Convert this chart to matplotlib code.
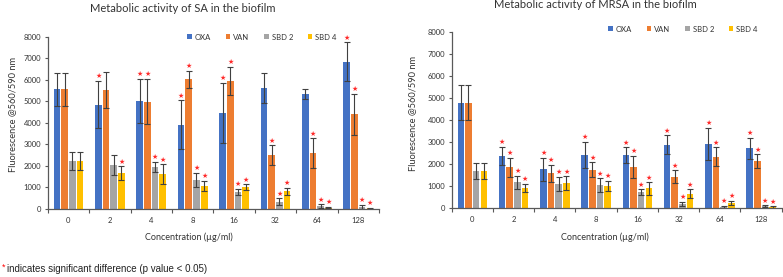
import matplotlib
matplotlib.use("Agg")
import matplotlib.pyplot as plt
import numpy as np

plt.rcParams['font.family'] = ['Lato', 'DejaVu Sans']

categories = ["0", "2", "4", "8", "16", "32", "64", "128"]
series = ["OXA", "VAN", "SBD 2", "SBD 4"]
colors = ["#4472C4", "#ED7D31", "#A5A5A5", "#FFC000"]

# SA biofilm
sa_vals = {
    "OXA":   [5550, 4850, 5000, 3920, 4450, 5600, 5350, 6840],
    "VAN":   [5550, 5520, 4980, 6020, 5940, 2510, 2590, 4400],
    "SBD 2": [2220, 2050, 1950, 1350, 790, 340, 140, 100],
    "SBD 4": [2220, 1660, 1630, 1070, 1020, 820, 60, 40],
}
sa_err = {
    "OXA":   [750, 1100, 1030, 1130, 1400, 700, 220, 900],
    "VAN":   [750, 820, 1050, 390, 650, 450, 700, 950],
    "SBD 2": [430, 480, 250, 340, 150, 150, 80, 80],
    "SBD 4": [430, 330, 450, 250, 130, 150, 30, 20],
}
sa_sig = {
    "OXA":   [0, 1, 1, 1, 1, 0, 0, 1],
    "VAN":   [0, 0, 1, 1, 1, 1, 1, 1],
    "SBD 2": [0, 0, 1, 1, 1, 1, 1, 1],
    "SBD 4": [0, 1, 1, 1, 1, 1, 1, 1],
}

# MRSA biofilm
mrsa_vals = {
    "OXA":   [4800, 2380, 1770, 2400, 2400, 2880, 2920, 2730],
    "VAN":   [4800, 1860, 1580, 1740, 1880, 1420, 2330, 2140],
    "SBD 2": [1680, 1170, 1090, 1040, 730, 180, 60, 80],
    "SBD 4": [1680, 910, 1130, 1000, 890, 650, 230, 50],
}
mrsa_err = {
    "OXA":   [800, 400, 520, 600, 360, 430, 720, 480],
    "VAN":   [800, 430, 400, 340, 500, 290, 440, 310],
    "SBD 2": [350, 300, 320, 310, 120, 90, 40, 50],
    "SBD 4": [350, 200, 310, 240, 280, 200, 90, 30],
}
mrsa_sig = {
    "OXA":   [0, 1, 1, 1, 1, 1, 1, 1],
    "VAN":   [0, 1, 1, 1, 1, 1, 1, 1],
    "SBD 2": [0, 1, 1, 1, 1, 1, 1, 1],
    "SBD 4": [0, 1, 1, 1, 1, 1, 1, 1],
}

W, H = 783, 277
fig = plt.figure(figsize=(W / 100, H / 100), dpi=100)
STAR = "#FF2A2A"


def draw(rect, vals, errs, sig, title, title_xy, legend_xy, xlab_xy, ylab_xy):
    ax = fig.add_axes(rect)
    x = np.arange(len(categories))
    step = 0.186
    width = 0.16
    handles = []
    for i, s in enumerate(series):
        pos = x + (i - 1.5) * step
        b = ax.bar(pos, vals[s], width, color=colors[i], label=s, zorder=2,
                   yerr=errs[s], capsize=2,
                   error_kw=dict(ecolor="#404040", elinewidth=0.8, capthick=0.8))
        handles.append(b)
        for p, v, e, g in zip(pos, vals[s], errs[s], sig[s]):
            if g:
                ax.annotate("\u2605", (p, v + e), xytext=(0, 1.2), textcoords="offset points",
                            ha="center", va="bottom", color=STAR, fontsize=5,
                            fontfamily="DejaVu Sans")
    ax.set_xlim(-0.5, len(categories) - 0.5)
    ax.set_ylim(0, 8000)
    ax.set_yticks(np.arange(0, 8001, 1000))
    ax.set_xticks(x)
    ax.set_xticklabels(categories)
    ax.set_xticks(np.arange(-0.5, len(categories), 1), minor=True)
    ax.tick_params(axis="x", which="major", length=0, labelsize=5.5, pad=6, colors="#333333")
    ax.tick_params(axis="x", which="minor", length=3, width=0.8, color="#595959", direction="out")
    ax.tick_params(axis="y", labelsize=5.5, length=2.5, width=0.8, color="#595959", colors="#333333", pad=2)
    for sp in ["top", "right"]:
        ax.spines[sp].set_visible(False)
    for sp in ["left", "bottom"]:
        ax.spines[sp].set_color("#595959")
        ax.spines[sp].set_linewidth(0.9)
    ax.set_xlabel("Concentration (\u00b5g/ml)", fontsize=6.5, color="#333333")
    ax.set_ylabel("Fluorescence @560/590 nm", fontsize=6.7, color="#333333")
    x0, y0, w0, h0 = rect[0] * W, (1 - rect[1]) * H, rect[2] * W, rect[3] * H
    ax.xaxis.set_label_coords((xlab_xy[0] - x0) / w0, (y0 - xlab_xy[1]) / h0)
    ax.yaxis.set_label_coords((ylab_xy[0] - x0) / w0, (y0 - ylab_xy[1]) / h0)
    fig.text(title_xy[0] / W, 1 - title_xy[1] / H, title, ha="center", va="center",
             fontsize=8, color="#333333")
    fig.legend(handles=handles, labels=series, loc="center",
               bbox_to_anchor=(legend_xy[0] / W, 1 - legend_xy[1] / H),
               ncol=4, frameon=False, fontsize=5.5, handlelength=0.6, handleheight=0.6,
               handletextpad=0.4, columnspacing=1.9, labelcolor="#333333")
    return ax


axL = draw([47.7 / W, 1 - 209 / H, 331.3 / W, 172.3 / H], sa_vals, sa_err, sa_sig,
           "Metabolic activity of SA in the biofilm", (183, 8), (262, 37),
           (188.7, 232), (17, 114))
axR = draw([451.7 / W, 1 - 208 / H, 330 / W, 175.7 / H], mrsa_vals, mrsa_err, mrsa_sig,
           "Metabolic activity of MRSA in the biofilm", (595, 5), (683, 29),
           (605, 232), (417, 113))

fig.text(0.002, 1 - 267 / H, "*", color="red", fontsize=6.5, va="center", ha="left",
         fontfamily="Liberation Sans")
fig.text(7 / W, 1 - 269 / H, "indicates significant difference (p value < 0.05)",
         color="#222222", fontsize=7, va="center", ha="left", fontfamily="Liberation Sans")

fig.savefig("out.png", dpi=100)
